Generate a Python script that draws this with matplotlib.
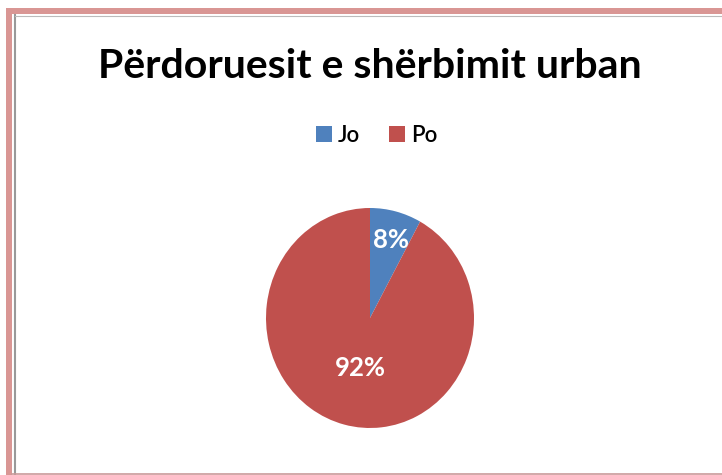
import matplotlib
matplotlib.use("Agg")
import matplotlib.pyplot as plt
from matplotlib.patches import Rectangle
from matplotlib.lines import Line2D

title = "Përdoruesit e shërbimit urban"
categories = ["Jo", "Po"]
values = [8, 92]
colors = ["#4F81BD", "#C0504D"]

W, H = 722, 475
fig = plt.figure(figsize=(W / 100, H / 100), dpi=100)
fig.patch.set_facecolor("white")

def px(x, y):
    return x / W, 1 - y / H

# borders
fig.patches.append(Rectangle((6 / W, 0), 6 / W, 1 - 8 / H, transform=fig.transFigure,
                             facecolor="#D99694", edgecolor="none"))
fig.patches.append(Rectangle((6 / W, 1 - 14 / H), 1, 6 / H, transform=fig.transFigure,
                             facecolor="#D99694", edgecolor="none"))
fig.lines.append(Line2D([14.5 / W, 14.5 / W], [0, 1 - 15 / H], transform=fig.transFigure,
                        color="#999999", lw=1.5))
fig.lines.append(Line2D([14.5 / W, 1], [1 - 15.5 / H, 1 - 15.5 / H], transform=fig.transFigure,
                        color="#bbbbbb", lw=0.8))
fig.lines.append(Line2D([12 / W, 1], [1 - 473.5 / H, 1 - 473.5 / H], transform=fig.transFigure,
                        color="#C99A99", lw=1.2))

font = "Lato"
fig.text(*px(370, 66), title, ha="center", va="center", fontsize=29.5,
         fontweight="bold", family=font, color="black")

# pie axes: x 266-474, y 208-428
left, right, top, bottom = 266, 474, 208, 428
ax = fig.add_axes([left / W, 1 - bottom / H, (right - left) / W, (bottom - top) / H])
wedges, texts, autotexts = ax.pie(values, colors=colors, startangle=90, counterclock=False,
                                  autopct=lambda p: f"{p:.0f}%", pctdistance=0.6,
                                  textprops=dict(color="white", fontsize=18.5, fontweight="bold", family=font),
                                  wedgeprops=dict(linewidth=0))
ax.set_aspect("auto")
ax.set_xlim(-1, 1)
ax.set_ylim(-1, 1)
autotexts[0].set_position((0.2, 0.71))
autotexts[1].set_position((-0.09, -0.45))

leg = fig.legend(wedges, categories, loc="center", bbox_to_anchor=px(377, 135),
                 ncol=2, frameon=False, prop=dict(family=font, size=16, weight="semibold"),
                 handlelength=0.7, handleheight=0.7, handletextpad=0.3, columnspacing=1.3)

fig.savefig("out.png", dpi=100)
